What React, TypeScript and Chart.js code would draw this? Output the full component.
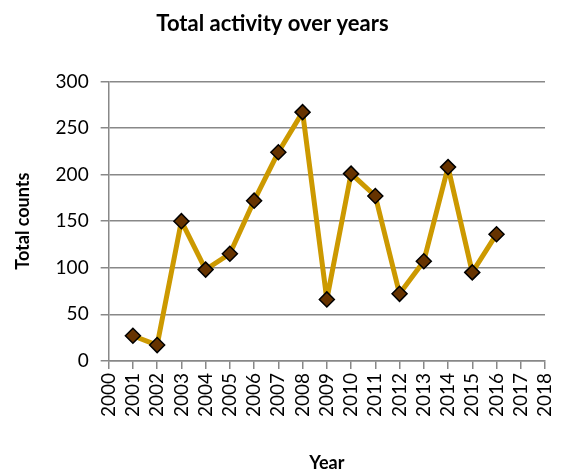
import React, { useEffect, useRef } from "react";
import { Chart, registerables } from "chart.js";

Chart.register(...registerables);

const years = [2001, 2002, 2003, 2004, 2005, 2006, 2007, 2008, 2009, 2010, 2011, 2012, 2013, 2014, 2015, 2016];
const counts = [27, 17, 150, 98, 115, 172, 224, 267, 66, 201, 177, 72, 107, 208, 95, 136];
const xMin = 2000;
const xMax = 2018;
const yMin = 0;
const yMax = 300;
const yStep = 50;

export default function App() {
  const ref = useRef<HTMLCanvasElement | null>(null);
  useEffect(() => {
    document.body.style.margin = "0";
    const ctx = ref.current!.getContext("2d")!;
    const font = "Lato, 'Open Sans', sans-serif";
    const chart = new Chart(ctx, {
      type: "line",
      data: {
        datasets: [
          {
            data: years.map((x, i) => ({ x, y: counts[i] })),
            borderColor: "#CC9900",
            borderWidth: 5,
            borderJoinStyle: "round",
            borderCapStyle: "round",
            pointStyle: "rectRot",
            pointRadius: 7.5,
            pointBackgroundColor: "#663300",
            pointBorderColor: "#000000",
            pointBorderWidth: 1.5,
            tension: 0,
          },
        ],
      },
      options: {
        responsive: false,
        animation: false,
        layout: { padding: { left: 0, right: 16, top: 7, bottom: 0 } },
        plugins: {
          legend: { display: false },
          tooltip: { enabled: false },
          title: {
            display: true,
            text: "Total activity over years",
            color: "#000",
            font: { family: font, size: 22, weight: "bold" },
            padding: { top: 4, bottom: 44 },
          },
        },
        scales: {
          x: {
            type: "linear",
            min: xMin,
            max: xMax,
            afterFit: (s: any) => {
              s.paddingRight = 0;
              s.paddingLeft = 0;
            },
            ticks: {
              stepSize: 1,
              autoSkip: false,
              minRotation: 90,
              maxRotation: 90,
              color: "#000",
              font: { family: font, size: 19 },
              callback: (v: any) => String(v),
              padding: 4,
            },
            grid: { drawOnChartArea: false, drawTicks: true, tickLength: 8, color: "#888888", lineWidth: 1.5 },
            border: { display: true, color: "#888888", width: 1.5 },
            title: {
              display: true,
              text: "Year",
              color: "#000",
              font: { family: font, size: 18, weight: "bold", lineHeight: 1 },
              padding: { top: 33, bottom: 0 },
            },
          },
          y: {
            min: yMin,
            max: yMax,
            ticks: {
              stepSize: yStep,
              color: "#000",
              font: { family: font, size: 19 },
              padding: 12,
            },
            grid: { color: "#888888", lineWidth: 1.5, tickLength: 8 },
            border: { display: true, color: "#888888", width: 1.5 },
            title: {
              display: true,
              text: "Total counts",
              color: "#000",
              font: { family: font, size: 18, weight: "bold" },
              padding: { top: 12, bottom: 10 },
            },
          },
        },
      },
    });
    return () => chart.destroy();
  }, []);
  return <canvas ref={ref} width={561} height={472} style={{ display: "block" }} />;
}
